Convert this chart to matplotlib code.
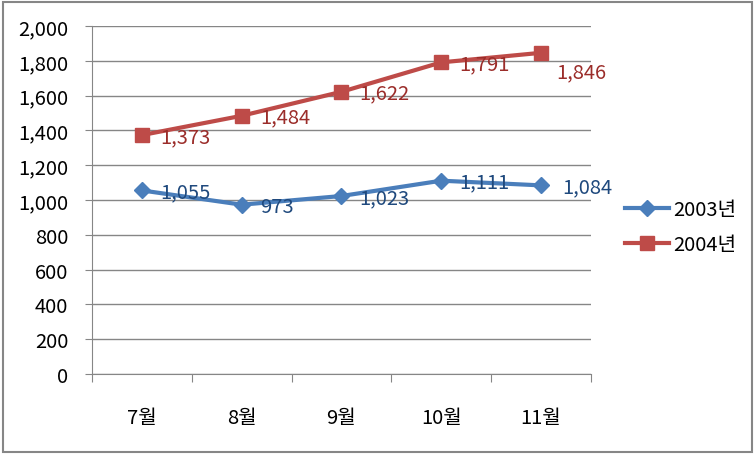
import matplotlib
matplotlib.use("Agg")
import matplotlib.pyplot as plt
from matplotlib.patches import Rectangle
from matplotlib.ticker import FuncFormatter, MultipleLocator

fs = 14.5
plt.rcParams['font.family'] = ['Noto Sans CJK KR', 'DejaVu Sans']
plt.rcParams['font.size'] = fs

months = ["7월", "8월", "9월", "10월", "11월"]
y2003 = [1055, 973, 1023, 1111, 1084]
y2004 = [1373, 1484, 1622, 1791, 1846]
# label offsets in points (dx, dy)
off2003 = [(13, -1), (13, -1), (13, -1), (13, -1), (15, -1)]
off2004 = [(13, -1), (13, -1), (13, -1), (13, -1), (11, -14)]

blue = "#4A7EBB"
red = "#BE4B48"

fig = plt.figure(figsize=(7.56, 4.56), dpi=100)
ax = fig.add_axes([92 / 756, 1 - 375 / 456, (591 - 92) / 756, (375 - 27) / 456])

x = list(range(len(months)))
ax.plot(x, y2003, color=blue, lw=3, marker="D", ms=8, label="2003년", zorder=3)
ax.plot(x, y2004, color=red, lw=3, marker="s", ms=10, label="2004년", zorder=3)

for i, v in enumerate(y2003):
    ax.annotate(f"{v:,}", (i, v), xytext=off2003[i], textcoords="offset points",
                ha="left", va="center", fontsize=fs, color="#1F497D", zorder=4)
for i, v in enumerate(y2004):
    ax.annotate(f"{v:,}", (i, v), xytext=off2004[i], textcoords="offset points",
                ha="left", va="center", fontsize=fs, color="#9B2D2A", zorder=4)

ax.set_xlim(-0.5, 4.5)
ax.set_ylim(0, 2000)
ax.yaxis.set_major_locator(MultipleLocator(200))
ax.yaxis.set_major_formatter(FuncFormatter(lambda v, p: f"{int(v):,}"))
ax.grid(axis="y", color="#868686", lw=1)
ax.set_axisbelow(True)

ax.set_xticks([i - 0.5 for i in range(6)], minor=False)
ax.set_xticklabels([])
ax.set_xticks(x, minor=True)
ax.set_xticklabels(months, minor=True)
ax.tick_params(axis="x", which="major", length=6, color="#868686", direction="out")
ax.tick_params(axis="x", which="minor", length=0, pad=24, labelsize=fs)
ax.tick_params(axis="y", length=5, color="#868686", pad=12, labelsize=fs)

for s in ["top", "right"]:
    ax.spines[s].set_visible(False)
for s in ["left", "bottom"]:
    ax.spines[s].set_color("#868686")

ax.legend(loc="center left", bbox_to_anchor=(607 / 756, 1 - 228 / 456),
          bbox_transform=fig.transFigure, frameon=False, fontsize=fs,
          handlelength=2.2, labelspacing=0.7, handletextpad=0.2)

fig.patches.append(Rectangle((3 / 756, 3 / 456), 749 / 756, 450 / 456,
                             transform=fig.transFigure, fill=False,
                             edgecolor="#868686", lw=1.5))

fig.savefig("out.png", dpi=100)
